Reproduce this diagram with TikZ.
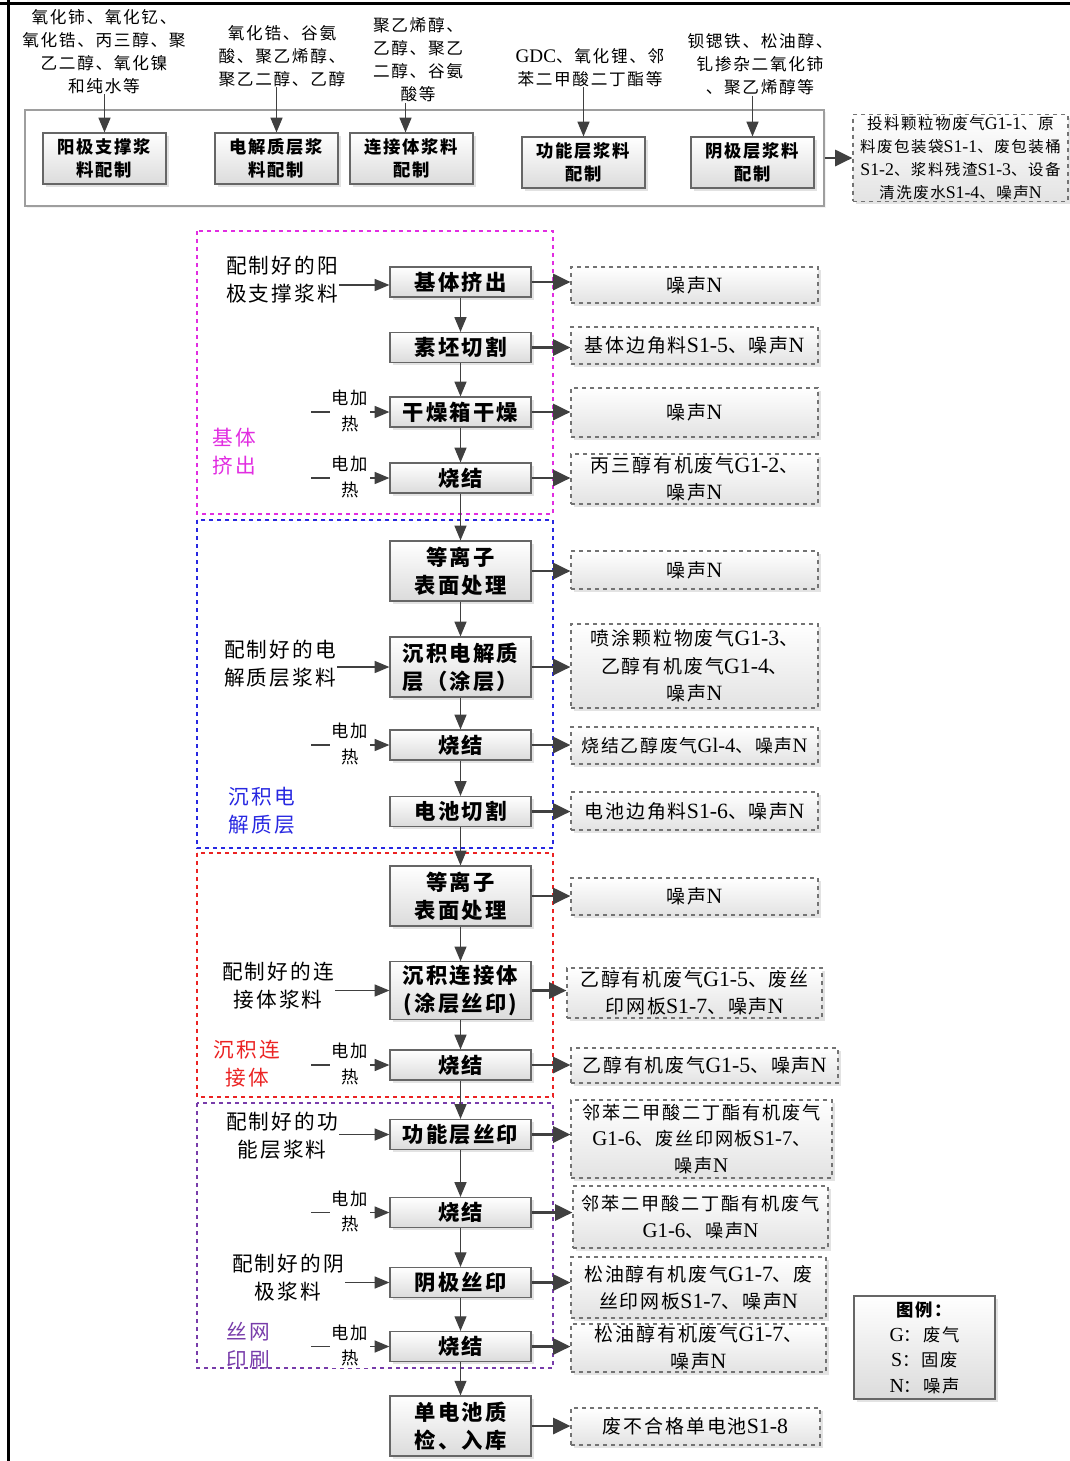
\documentclass[tikz,border=0pt]{standalone}
\usepackage{fontspec}
\setmainfont{Noto Sans CJK SC}[LetterSpace=10]
\newfontfamily\latf{Liberation Serif}[Scale=1.15]
\newcommand\latn[1]{{\latf #1}}
\usetikzlibrary{arrows.meta,shadows}
\definecolor{mag}{RGB}{225,45,225}
\definecolor{blu}{RGB}{40,40,225}
\definecolor{rd}{RGB}{235,35,35}
\definecolor{pur}{RGB}{120,60,170}
\definecolor{ln}{RGB}{64,64,64}
\tikzset{
  shd/.style={drop shadow={shadow xshift=2.2pt,shadow yshift=-2.2pt,fill=black!22}},
  pbox/.style={draw=black!60, line width=0.9pt, top color=white, bottom color=black!14, shd, align=center, inner sep=1pt},
  mbox/.style={pbox, minimum width=105.75pt, font=\fontsize{16}{21}\selectfont\bfseries},
  tbox/.style={pbox, minimum width=92.25pt, minimum height=38.25pt, font=\fontsize{13}{17.5}\selectfont\bfseries},
  wbox/.style={draw=black!55, dashed, line width=0.8pt, top color=white, bottom color=black!11, shd, align=center, inner sep=1pt, font=\fontsize{14.2}{20.5}\selectfont},
  obox/.style={draw=black!38, line width=0.8pt, fill=white, drop shadow={shadow xshift=1.5pt,shadow yshift=-1.5pt,fill=black!10}},
  tin/.style={align=center, inner sep=0pt, font=\fontsize{12.5}{17.3}\selectfont},
  lin/.style={align=center, inner sep=1pt, font=\fontsize{15.5}{21}\selectfont},
  heat/.style={align=center, inner sep=1pt, fill=white, font=\fontsize{13}{19}\selectfont},
  lab/.style={align=center, inner sep=0pt, font=\fontsize{15.5}{21}\selectfont},
  arr/.style={draw=ln, line width=0.9pt, -{Triangle[length=11pt,width=9pt]}},
  tarr/.style={draw=ln, line width=2.2pt, -{Triangle[length=13pt,width=12pt]}},
  frame/.style={dashed, line width=0.8pt},
  x=0.75pt, y=-0.75pt
}
\begin{document}
\begin{tikzpicture}
\useasboundingbox (0,0) rectangle (1070,1461);
% page border lines
\draw[line width=2.4pt] (0,3.5) -- (1070,3.5);
\draw[line width=2.4pt] (8.5,0) -- (8.5,1461);

% ---------- top preparation area ----------
\node[obox, minimum width=599.25pt, minimum height=72pt] (topf) at (424.5,158) {};
\node[tbox] (p1) at (104.5,158.5) {阳极支撑浆\\料配制};
\node[tbox] (p2) at (276.5,158.5) {电解质层浆\\料配制};
\node[tbox] (p3) at (411.5,158.5) {连接体浆料\\配制};
\node[tbox] (p4) at (583.5,162.5) {功能层浆料\\配制};
\node[tbox] (p5) at (752.5,162.5) {阴极层浆料\\配制};

\node[tin] (t1) at (104,51.5) {氧化铈、氧化钇、\\氧化锆、丙三醇、聚\\乙二醇、氧化镍\\和纯水等};
\node[tin] (t2) at (282,56) {氧化锆、谷氨\\酸、聚乙烯醇、\\聚乙二醇、乙醇};
\node[tin] (t3) at (418,60) {聚乙烯醇、\\乙醇、聚乙\\二醇、谷氨\\酸等};
\node[tin] (t4) at (590,67.5) {\latn{GDC}、氧化锂、邻\\苯二甲酸二丁酯等};
\node[tin] (t5) at (760,64.5) {钡锶铁、松油醇、\\钆掺杂二氧化铈\\、聚乙烯醇等};

\draw[arr] (p1.north |- t1.south) -- (p1.north);
\draw[arr] (p2.north |- t2.south) -- (p2.north);
\draw[arr] ([xshift=-4.5pt]p3.north |- t3.south) -- ([xshift=-4.5pt]p3.north);
\draw[arr] (p4.north |- t4.south) -- (p4.north);
\draw[arr] (p5.north |- t5.south) -- (p5.north);

\node[wbox, minimum width=161.25pt, minimum height=64.5pt, font=\fontsize{11.6}{17.3}\selectfont] (w0) at (960.5,158)
 {投料颗粒物废气\latn{G1-1}、原\\料废包装袋\latn{S1-1}、废包装桶\\\latn{S1-2}、浆料残渣\latn{S1-3}、设备\\清洗废水\latn{S1-4}、噪声\latn{N}};
\draw[tarr] (topf.east) -- (w0.west);

% ---------- section frames ----------
\draw[frame, mag] (197,231) rectangle (553,514);
\draw[frame, blu] (197,520) rectangle (553,848);
\draw[frame, rd] (197,853) rectangle (553,1097);
\draw[frame, pur] (197,1103) rectangle (553,1368);

% ---------- main column ----------
\node[mbox, minimum height=22.5pt] (b1) at (460.5,282) {基体挤出};
\node[mbox, minimum height=22.5pt] (b2) at (460.5,347.5) {素坯切割};
\node[mbox, minimum height=22.5pt] (b3) at (460.5,412) {干燥箱干燥};
\node[mbox, minimum height=22.5pt] (b4) at (460.5,478) {烧结};
\node[mbox, minimum height=45pt] (b5) at (460.5,571) {等离子\\表面处理};
\node[mbox, minimum height=45pt] (b6) at (460.5,667) {沉积电解质\\层（涂层）};
\node[mbox, minimum height=22.5pt] (b7) at (460.5,745) {烧结};
\node[mbox, minimum height=22.5pt] (b8) at (460.5,811.5) {电池切割};
\node[mbox, minimum height=45pt] (b9) at (460.5,896) {等离子\\表面处理};
\node[mbox, minimum height=43pt] (b10) at (460.5,990.5) {沉积连接体\\(涂层丝印)};
\node[mbox, minimum height=22.5pt] (b11) at (460.5,1065) {烧结};
\node[mbox, minimum height=22.5pt] (b12) at (460.5,1134.5) {功能层丝印};
\node[mbox, minimum height=22.5pt] (b13) at (460.5,1212.5) {烧结};
\node[mbox, minimum height=22.5pt] (b14) at (460.5,1282.5) {阴极丝印};
\node[mbox, minimum height=22.5pt] (b15) at (460.5,1346.5) {烧结};
\node[mbox, minimum height=45pt] (b16) at (460.5,1426) {单电池质\\检、入库};

\foreach \a/\b in {b1/b2,b2/b3,b3/b4,b4/b5,b5/b6,b6/b7,b7/b8,b8/b9,b9/b10,b10/b11,b11/b12,b12/b13,b13/b14,b14/b15,b15/b16}
  \draw[arr] (\a.south) -- (\b.north);

% ---------- right waste boxes ----------
\node[wbox, minimum width=185.25pt, minimum height=27pt] (r1) at (694.5,285) {噪声\latn{N}};
\node[wbox, minimum width=185.25pt, minimum height=27.75pt] (r2) at (694.5,345.5) {基体边角料\latn{S1-5}、噪声\latn{N}};
\node[wbox, minimum width=185.25pt, minimum height=36.75pt] (r3) at (694.5,412.5) {噪声\latn{N}};
\node[wbox, minimum width=185.25pt, minimum height=37.5pt] (r4) at (694.5,479) {丙三醇有机废气\latn{G1-2}、\\噪声\latn{N}};
\node[wbox, minimum width=185.25pt, minimum height=28.5pt] (r5) at (694.5,570) {噪声\latn{N}};
\node[wbox, minimum width=185.25pt, minimum height=63pt] (r6) at (694.5,666) {喷涂颗粒物废气\latn{G1-3}、\\乙醇有机废气\latn{G1-4}、\\噪声\latn{N}};
\node[wbox, minimum width=185.25pt, minimum height=27.75pt, font=\fontsize{13.4}{20}\selectfont] (r7) at (694.5,745.5) {烧结乙醇废气\latn{Gl-4}、噪声\latn{N}};
\node[wbox, minimum width=185.25pt, minimum height=28.5pt] (r8) at (694.5,811) {电池边角料\latn{S1-6}、噪声\latn{N}};
\node[wbox, minimum width=185.25pt, minimum height=27.75pt] (r9) at (694.5,896.5) {噪声\latn{N}};
\node[wbox, minimum width=191.25pt, minimum height=37.5pt] (r10) at (694.5,993) {乙醇有机废气\latn{G1-5}、废丝\\印网板\latn{S1-7}、噪声\latn{N}};
\node[wbox, minimum width=200.25pt, minimum height=26.25pt] (r11) at (704.5,1065.5) {乙醇有机废气\latn{G1-5}、噪声\latn{N}};
\node[wbox, minimum width=195.75pt, minimum height=58.5pt, font=\fontsize{13.6}{20}\selectfont] (r12) at (701.5,1139) {邻苯二甲酸二丁酯有机废气\\\latn{G1-6}、废丝印网板\latn{S1-7}、\\噪声\latn{N}};
\node[wbox, minimum width=191.25pt, minimum height=46.5pt, font=\fontsize{13.6}{20.5}\selectfont] (r13) at (700.5,1217) {邻苯二甲酸二丁酯有机废气\\\latn{G1-6}、噪声\latn{N}};
\node[wbox, minimum width=191.25pt, minimum height=45.75pt] (r14) at (698.5,1287.5) {松油醇有机废气\latn{G1-7}、废\\丝印网板\latn{S1-7}、噪声\latn{N}};
\node[wbox, minimum width=191.25pt, minimum height=36pt] (r15) at (698.5,1348) {松油醇有机废气\latn{G1-7}、\\噪声\latn{N}};
\node[wbox, minimum width=186.75pt, minimum height=27.75pt] (r16) at (695.5,1426.5) {废不合格单电池\latn{S1-8}};

\foreach \i in {1,...,16}
  \draw[tarr] (b\i.east) -- (b\i.east -| r\i.west);

% ---------- left inputs ----------
\node[lin] (l1) at (282,280) {配制好的阳\\极支撑浆料};
\node[lin] (l2) at (280,664) {配制好的电\\解质层浆料};
\node[lin] (l3) at (278,986) {配制好的连\\接体浆料};
\node[lin] (l4) at (282,1135.5) {配制好的功\\能层浆料};
\node[lin] (l5) at (288,1278) {配制好的阴\\极浆料};
\draw[arr] (l1.east |- 0,285) -- (b1.west |- 0,285);
\draw[arr] (l2.east |- b6.west) -- (b6.west);
\draw[arr] (l3.east |- b10.west) -- (b10.west);
\draw[arr] (l4.east |- b12.west) -- (b12.west);
\draw[arr] (l5.east |- b14.west) -- (b14.west);

% ---------- electric heating inputs ----------
\foreach \b/\y in {b3/412,b4/478,b7/745,b11/1065,b13/1212.5,b15/1346.5}{
  \coordinate (h\b) at (311,\y);
  \draw[arr] (h\b) -- (\b.west);
  \node[heat] (ht\b) at (350,\y-1) {电加\\热};
}

% ---------- section labels ----------
\node[lab, text=mag] (lab1) at (234,452) {基体\\挤出};
\node[lab, text=blu] (lab2) at (262,810.5) {沉积电\\解质层};
\node[lab, text=rd] (lab3) at (247,1064) {沉积连\\接体};
\node[lab, text=pur] (lab4) at (248,1345.5) {丝网\\印刷};

% ---------- legend ----------
\node[pbox, minimum width=105.75pt, minimum height=77.25pt, font=\fontsize{13}{19}\selectfont] (leg) at (924.5,1347.5)
 {{\bfseries 图例：}\\\latn{G}：废气\\\latn{S}：固废\\\latn{N}：噪声};
\end{tikzpicture}
\end{document}
